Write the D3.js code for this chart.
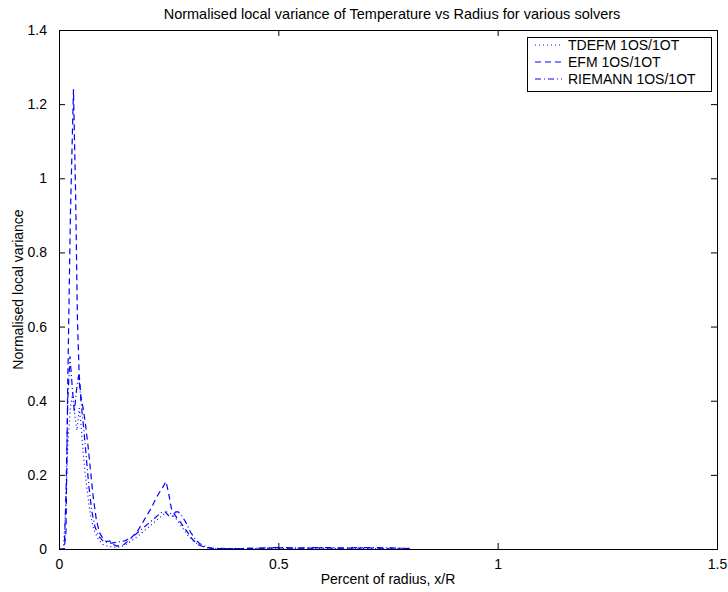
<!DOCTYPE html>
<html><head><meta charset="utf-8">
<script src="https://cdn.jsdelivr.net/npm/d3@7"></script>
<style>body{margin:0;background:#fff}text{font-family:"Liberation Sans",Arial,Helvetica,sans-serif}</style>
</head><body><svg id="c" width="728" height="592"></svg>
<script>
const title = "Normalised local variance of Temperature vs Radius for various solvers";
const xLabel = "Percent of radius, x/R";
const yLabel = "Normalised local variance";
const xTicks = [0, 0.5, 1, 1.5];
const yTicks = [0, 0.2, 0.4, 0.6, 0.8, 1, 1.2, 1.4];
const seriesNames = ["TDEFM 1OS/1OT", "EFM 1OS/1OT", "RIEMANN 1OS/1OT"];
const tdefm = [[0,0],[0.01,0],[0.015,0.1],[0.02,0.28],[0.026,0.38],[0.031,0.42],[0.036,0.36],[0.041,0.32],[0.046,0.38],[0.05,0.34],[0.055,0.26],[0.06,0.2],[0.066,0.14],[0.072,0.09],[0.08,0.05],[0.09,0.025],[0.1,0.012],[0.11,0.008],[0.12,0.006],[0.13,0.005],[0.14,0.006],[0.15,0.01],[0.16,0.018],[0.175,0.03],[0.19,0.045],[0.205,0.06],[0.22,0.075],[0.235,0.09],[0.245,0.1],[0.255,0.095],[0.265,0.085],[0.28,0.06],[0.295,0.035],[0.31,0.018],[0.325,0.008],[0.34,0.003],[0.36,0.001],[0.4,0.001],[0.5,0.001],[0.6,0.001],[0.7,0.001],[0.8,0.001]];
const efm = [[0,0],[0.012,0],[0.016,0.05],[0.02,0.45],[0.026,0.9],[0.033,1.24],[0.038,0.95],[0.042,0.62],[0.046,0.47],[0.05,0.41],[0.055,0.38],[0.06,0.34],[0.066,0.28],[0.072,0.21],[0.078,0.14],[0.085,0.08],[0.092,0.045],[0.1,0.028],[0.108,0.02],[0.116,0.022],[0.124,0.012],[0.132,0.008],[0.14,0.01],[0.148,0.012],[0.156,0.02],[0.165,0.03],[0.18,0.05],[0.195,0.08],[0.21,0.11],[0.225,0.145],[0.236,0.165],[0.244,0.182],[0.25,0.15],[0.256,0.11],[0.265,0.09],[0.275,0.075],[0.29,0.05],[0.305,0.025],[0.32,0.01],[0.335,0.004],[0.35,0.001],[0.4,0.001],[0.45,0.002],[0.5,0.003],[0.55,0.002],[0.6,0.003],[0.65,0.002],[0.7,0.003],[0.75,0.002],[0.8,0.002]];
const riemann = [[0,0],[0.012,0],[0.016,0.15],[0.02,0.4],[0.025,0.52],[0.03,0.44],[0.035,0.37],[0.04,0.43],[0.045,0.47],[0.05,0.4],[0.056,0.33],[0.062,0.25],[0.068,0.17],[0.075,0.1],[0.082,0.06],[0.09,0.035],[0.1,0.022],[0.11,0.018],[0.12,0.016],[0.13,0.018],[0.14,0.02],[0.15,0.022],[0.16,0.028],[0.175,0.04],[0.19,0.055],[0.205,0.07],[0.22,0.085],[0.232,0.098],[0.242,0.1],[0.25,0.09],[0.258,0.088],[0.266,0.1],[0.272,0.1],[0.28,0.09],[0.29,0.07],[0.3,0.045],[0.31,0.028],[0.32,0.015],[0.335,0.006],[0.35,0.002],[0.4,0.001],[0.45,0.002],[0.5,0.004],[0.55,0.003],[0.6,0.004],[0.65,0.003],[0.7,0.004],[0.75,0.003],[0.8,0.001]];
const seriesData = [tdefm, efm, riemann];
const dashes = ["1,3", "6,4", "6,3,1,3"];

const svg = d3.select("#c");
const L = 59, R = 717, T = 30, B = 549;
const x = d3.scaleLinear().domain([0, 1.5]).range([L, R]);
const y = d3.scaleLinear().domain([0, 1.4]).range([B, T]);
const FS = 14;

svg.append("rect").attr("x", 0).attr("y", 0).attr("width", 728).attr("height", 592).attr("fill", "#fff");

const line = d3.line().x(d => x(d[0])).y(d => y(d[1]));
const g = svg.append("g");
seriesData.forEach((s, i) => {
  g.append("path").datum(s).attr("d", line).attr("fill", "none")
    .attr("stroke", "#0000ff").attr("stroke-width", 1.2).attr("stroke-dasharray", dashes[i]);
});

const fmt = d => d3.format("")(d);
const axB = d3.axisBottom(x).tickValues(xTicks).tickSize(-6).tickPadding(10).tickFormat(fmt);
const axT = d3.axisTop(x).tickValues(xTicks).tickSize(-6).tickFormat("");
const axL = d3.axisLeft(y).tickValues(yTicks).tickSize(-6).tickPadding(12).tickFormat(fmt);
const axR = d3.axisRight(y).tickValues(yTicks).tickSize(-6).tickFormat("");
function style(sel){ sel.select(".domain").attr("stroke","#000").attr("stroke-width",1);
  sel.selectAll(".tick line").attr("stroke","#000");
  sel.selectAll("text").attr("font-size", FS).attr("fill","#000").attr("font-family","'Liberation Sans',Arial,sans-serif"); }
svg.append("g").attr("transform", `translate(0,${B})`).call(axB).call(style);
svg.append("g").attr("transform", `translate(0,${T})`).call(axT).call(style);
svg.append("g").attr("transform", `translate(${L},0)`).call(axL).call(style);
svg.append("g").attr("transform", `translate(${R},0)`).call(axR).call(style);

svg.append("text").attr("x", 392).attr("y", 19).attr("text-anchor", "middle").attr("font-size", 14.5).text(title);
svg.append("text").attr("x", (L + R) / 2).attr("y", 584).attr("text-anchor", "middle").attr("font-size", FS).text(xLabel);
svg.append("text").attr("transform", `translate(23,${(T + B) / 2}) rotate(-90)`).attr("text-anchor", "middle").attr("font-size", FS).text(yLabel);

const lg = svg.append("g");
lg.append("rect").attr("x", 527.5).attr("y", 37.5).attr("width", 184).attr("height", 54).attr("fill", "#fff").attr("stroke", "#000");
seriesNames.forEach((n, i) => {
  const yy = 45 + i * 17;
  lg.append("line").attr("x1", 535).attr("x2", 562).attr("y1", yy).attr("y2", yy)
    .attr("stroke", "#0000ff").attr("stroke-width", 1.2).attr("stroke-dasharray", dashes[i]);
  lg.append("text").attr("x", 568).attr("y", yy + 5).attr("font-size", FS).text(n);
});
</script></body></html>
